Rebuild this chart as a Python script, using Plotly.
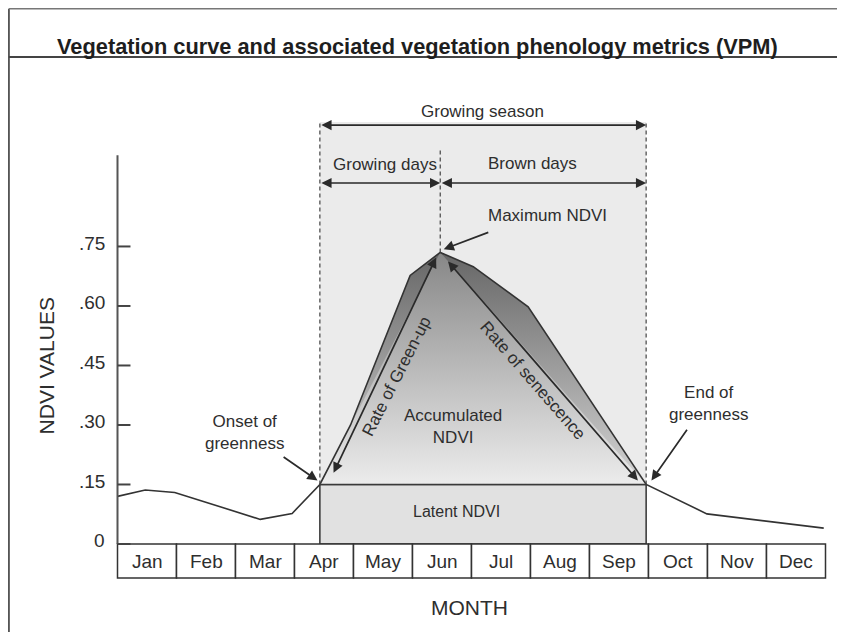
import plotly.graph_objects as go

# ---------------- data ----------------
months = ["Jan", "Feb", "Mar", "Apr", "May", "Jun", "Jul", "Aug", "Sep", "Oct", "Nov", "Dec"]
curve_month = [0.0, 0.47, 0.97, 2.42, 2.96, 3.43, 3.95, 4.96, 5.47, 6.03, 6.96, 8.96, 9.99, 11.97]
curve_ndvi = [0.120, 0.136, 0.130, 0.062, 0.077, 0.150, 0.300, 0.677, 0.735, 0.699, 0.598, 0.150, 0.076, 0.040]
tick_vals = [0, 0.15, 0.30, 0.45, 0.60, 0.75]
tick_text = ["0", ".15", ".30", ".45", ".60", ".75"]
onset_idx = 5      # Onset of greenness
peak_idx = 8       # Maximum NDVI
end_idx = 11       # End of greenness

FONT = "Liberation Sans, Arial, sans-serif"
TXT = "#2e2e2e"
LINE = "#333333"

onset_x, onset_y = curve_month[onset_idx], curve_ndvi[onset_idx]
peak_x, peak_y = curve_month[peak_idx], curve_ndvi[peak_idx]
end_x, end_y = curve_month[end_idx], curve_ndvi[end_idx]
latent = onset_y
top_season = 1.064

fig = go.Figure()

# area under the curve inside the growing season (dark wedges)
gx = curve_month[onset_idx:end_idx + 1]
gy = curve_ndvi[onset_idx:end_idx + 1]
fig.add_trace(go.Scatter(
    x=gx + [end_x, onset_x], y=gy + [latent, latent], mode="lines",
    line=dict(width=0), fill="toself",
    fillgradient=dict(type="vertical", colorscale=[[0, "#d4d4d4"], [1, "#666666"]],
                      start=latent, stop=peak_y),
    hoverinfo="skip", showlegend=False))

# accumulated NDVI triangle (lighter gradient)
fig.add_trace(go.Scatter(
    x=[onset_x, peak_x, end_x, onset_x], y=[onset_y, peak_y, end_y, onset_y], mode="lines",
    line=dict(width=0), fill="toself",
    fillgradient=dict(type="vertical", colorscale=[[0, "#ececec"], [1, "#878787"]],
                      start=latent, stop=peak_y),
    hoverinfo="skip", showlegend=False))

# the NDVI curve
fig.add_trace(go.Scatter(x=curve_month, y=curve_ndvi, mode="lines",
                         line=dict(color=LINE, width=1.6), hoverinfo="skip", showlegend=False))

shapes = []
# growing season background
shapes.append(dict(type="rect", xref="x", yref="y", x0=onset_x, x1=end_x, y0=latent, y1=top_season,
                   fillcolor="#ebebeb", line=dict(width=0), layer="below"))
# latent NDVI box
shapes.append(dict(type="rect", xref="x", yref="y", x0=onset_x, x1=end_x, y0=0, y1=latent,
                   fillcolor="#e1e1e1", line=dict(color=LINE, width=1.5), layer="below"))
shapes.append(dict(type="line", xref="x", yref="y", x0=onset_x, x1=end_x, y0=latent, y1=latent,
                   line=dict(color="#3a3a3a", width=1.4)))
# dashed verticals
for xv, y0 in [(onset_x, latent), (end_x, latent)]:
    shapes.append(dict(type="line", xref="x", yref="y", x0=xv, x1=xv, y0=y0, y1=top_season,
                       line=dict(color="#444", width=1.2, dash="4px,3px")))
shapes.append(dict(type="line", xref="x", yref="y", x0=peak_x, x1=peak_x, y0=peak_y, y1=0.995,
                   line=dict(color="#444", width=1.2, dash="4px,3px")))
# month boxes
for i, m in enumerate(months):
    shapes.append(dict(type="rect", xref="x", yref="y", x0=i, x1=i + 1, y0=-0.0857, y1=0,
                       fillcolor="white", line=dict(color=LINE, width=1.5)))
# y axis line and ticks
shapes.append(dict(type="line", xref="x", yref="y", x0=0, x1=0, y0=0, y1=0.98,
                   line=dict(color="#555", width=2)))
for tv in tick_vals:
    shapes.append(dict(type="line", xref="x", yref="y", x0=0, x1=0.22, y0=tv, y1=tv,
                       line=dict(color="#444", width=2)))
# frame with title
shapes.append(dict(type="line", xref="paper", yref="paper", x0=0.001, x1=0.001, y0=0, y1=0.999,
                   line=dict(color="#555", width=2)))
shapes.append(dict(type="line", xref="paper", yref="paper", x0=0.001, x1=1.0, y0=0.999, y1=0.999,
                   line=dict(color="#777", width=1.5)))
shapes.append(dict(type="line", xref="paper", yref="paper", x0=0.001, x1=1.0, y0=0.9225, y1=0.9225,
                   line=dict(color="#444", width=2)))

ann = []


def label(x, y, text, size=17, angle=0, xanchor="center", ref="x"):
    ann.append(dict(x=x, y=y, xref=ref, yref="y" if ref == "x" else "paper", text=text,
                    showarrow=False, textangle=angle, xanchor=xanchor,
                    font=dict(family=FONT, size=size, color=TXT)))


def arrow(x0, y0, x1, y1, both=False):
    ann.append(dict(x=x1, y=y1, ax=x0, ay=y0, xref="x", yref="y", axref="x", ayref="y",
                    text="", showarrow=True, arrowhead=2, startarrowhead=2, arrowsize=1.2,
                    startarrowsize=1.2, arrowwidth=1.7, arrowcolor="#2a2a2a",
                    arrowside="end+start" if both else "end"))


# title
label(0.4852, 0.962, "<b>Vegetation curve and associated vegetation phenology metrics (VPM)</b>",
      size=21.8, ref="paper")
ann[-1]["font"]["color"] = "#1e1e1e"

# season arrows
arrow(onset_x, 1.056, end_x, 1.056, both=True)
label(6.19, 1.089, "Growing season")
arrow(onset_x, 0.910, peak_x, 0.910, both=True)
label(4.53, 0.957, "Growing days")
arrow(peak_x, 0.910, end_x, 0.910, both=True)
label(7.04, 0.960, "Brown days")

# max NDVI
label(7.28, 0.827, "Maximum NDVI")
arrow(6.31, 0.787, peak_x + 0.06, peak_y + 0.008)

# onset / end
label(2.16, 0.282, "Onset of<br>greenness")
arrow(2.79, 0.222, onset_x - 0.04, onset_y + 0.01)
label(10.02, 0.353, "End of<br>greenness")
arrow(9.67, 0.292, end_x + 0.09, end_y + 0.01)

# rates
arrow(3.65, 0.176, 5.40, 0.722, both=True)
label(4.73, 0.422, "Rate of Green-up", angle=-63)
arrow(5.58, 0.716, 8.82, 0.160, both=True)
label(7.04, 0.413, "Rate of senescence", angle=49)

label(5.69, 0.295, "Accumulated<br>NDVI")
label(5.74, 0.081, "Latent NDVI", size=16)

# month labels
for i, m in enumerate(months):
    label(i + 0.5, -0.043, m, size=19)
# y tick labels
for tv, tt in zip(tick_vals, tick_text):
    label(-0.178, tv + 0.008, tt, size=19, xanchor="right")

label(5.97, -0.159, "MONTH", size=21)
label(-1.203, 0.449, "NDVI VALUES", size=21, angle=-90)

# the page adds an 8 px body margin; ranges are set so the drawing lands where it should
fig.update_layout(
    width=845, height=632, margin=dict(l=0, r=0, t=0, b=0),
    paper_bgcolor="white", plot_bgcolor="white",
    xaxis=dict(range=[-1.8559, 12.4661], visible=False, fixedrange=True),
    yaxis=dict(range=[-0.2420, 1.3511], visible=False, fixedrange=True),
    shapes=shapes, annotations=ann, showlegend=False,
)

fig.write_html("out.html")
